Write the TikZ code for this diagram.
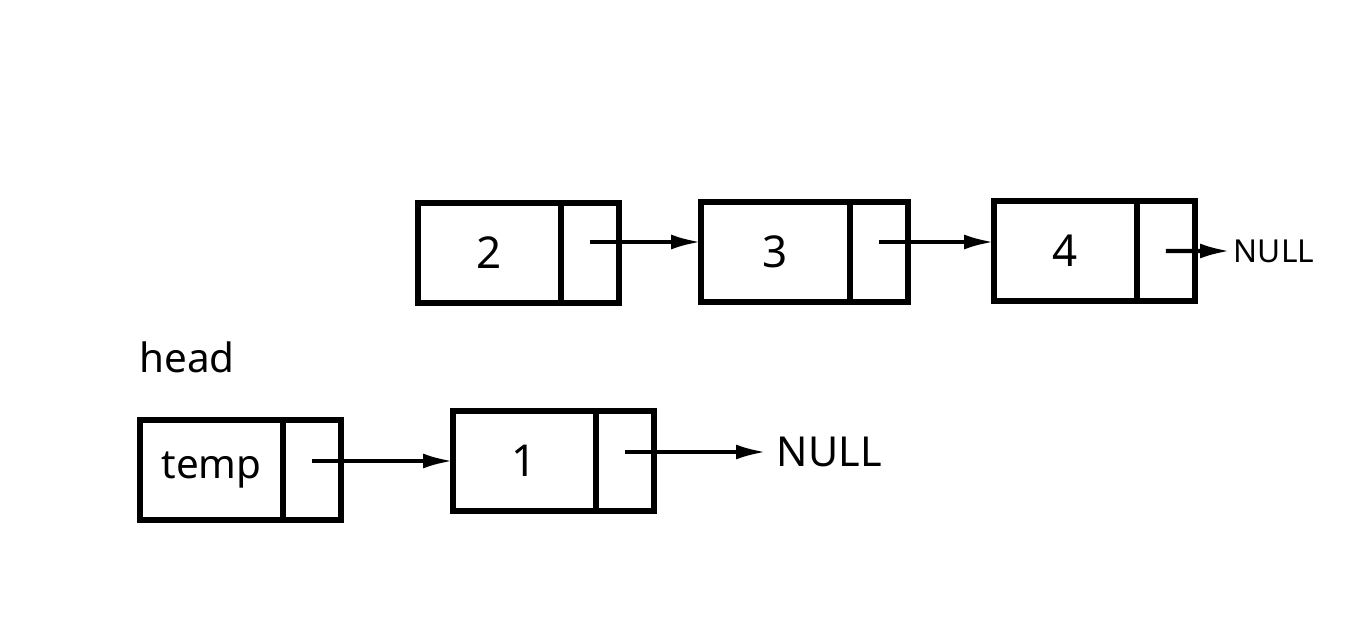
\documentclass[tikz,border=0pt]{standalone}
\usepackage{fontspec}
\setmainfont{Noto Sans}
\usetikzlibrary{positioning,arrows.meta}

\begin{document}
\begin{tikzpicture}[x=0.02cm, y=-0.02cm,
        data/.style={rectangle, draw=black, line width=2.9pt, minimum width=2.86cm, minimum height=2cm, outer sep=0pt, inner sep=0pt, font=\fontsize{25}{30}\selectfont},
        ptr/.style={rectangle, draw=black, line width=2.9pt, minimum width=1.16cm, minimum height=2cm, outer sep=0pt},
        link/.style={line width=2.3pt, -{Latex[length=6mm,width=3mm]}}
    ]
        \useasboundingbox (0,0) rectangle (1350,629);

        % Upper list
        \node[data, anchor=north west] (d2) at (418,203) {2};
        \node[ptr, right=0pt of d2] (p2) {};
        \node[data, minimum width=2.98cm, anchor=north west] (d3) at (701,202) {3};
        \node[ptr, right=0pt of d3] (p3) {};
        \node[data, anchor=north west] (d4) at (994,201) {4};
        \node[ptr, right=0pt of d4] (p4) {};
        \node[anchor=west, inner sep=2pt, font=\fontsize{18}{22}\selectfont] (null4) at (1230,251) {NULL};

        % Lower list
        \node[anchor=west, font=\fontsize{23}{28}\selectfont, inner sep=0pt] (head) at (139,357) {head};
        \node[data, font=\fontsize{23}{28}\selectfont, anchor=north west] (dtemp) at (140,420) {temp};
        \node[ptr, right=0pt of dtemp] (ptemp) {};
        \node[data, anchor=north west] (d1) at (453,411) {1};
        \node[ptr, right=0pt of d1] (p1) {};
        \node[anchor=west, inner sep=6pt, font=\fontsize{23.5}{28}\selectfont] (null1) at (766,452) {NULL};

        % Links
        \draw[link] ([yshift=0.22cm]p2.center) -- ([yshift=0.22cm]p2.center -| d3.west);
        \draw[link] ([yshift=0.2cm]p3.center) -- ([yshift=0.2cm]p3.center -| d4.west);
        \draw[link] (p4.center) -- (null4.west);
        \draw[link] (ptemp.center |- d1.west) -- (d1.west);
        \draw[link] (p1.center |- null1.west) -- (null1.west);
    \end{tikzpicture}
\end{document}
